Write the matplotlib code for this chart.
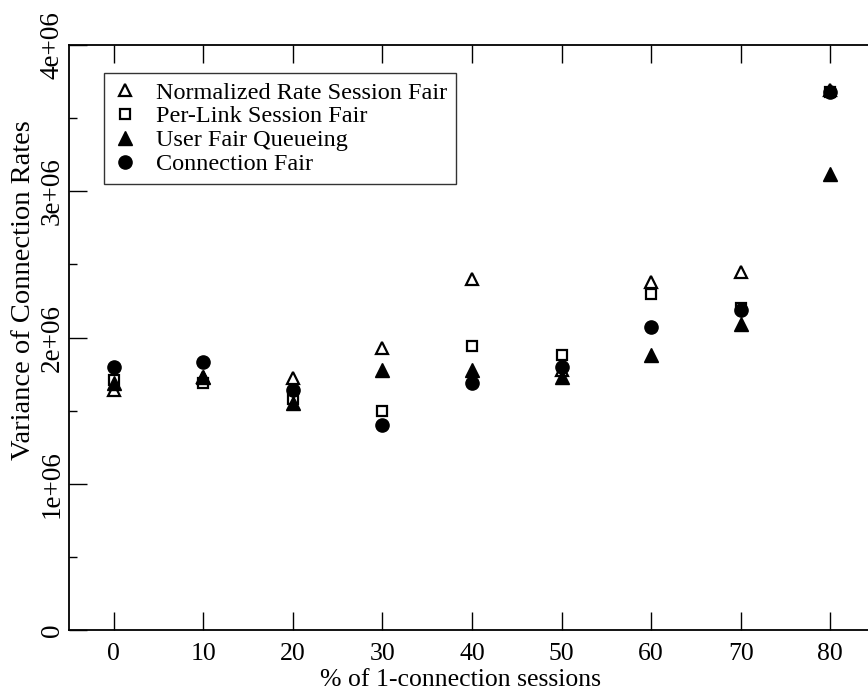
import matplotlib
matplotlib.use('Agg')
import matplotlib.pyplot as plt
from matplotlib.ticker import MultipleLocator

# %% Data
pct_sessions = [0, 10, 20, 30, 40, 50, 60, 70, 80]

norm_rate_fair = [1.64e6, 1.73e6, 1.72e6, 1.93e6, 2.40e6, 1.78e6, 2.38e6, 2.45e6, 3.69e6]
per_link_fair  = [1.71e6, 1.69e6, 1.58e6, 1.50e6, 1.94e6, 1.88e6, 2.30e6, 2.20e6, 3.68e6]
user_fair_q    = [1.69e6, 1.73e6, 1.55e6, 1.78e6, 1.78e6, 1.73e6, 1.88e6, 2.09e6, 3.12e6]
conn_fair      = [1.80e6, 1.83e6, 1.64e6, 1.40e6, 1.69e6, 1.80e6, 2.07e6, 2.19e6, 3.68e6]

series_labels = ['Normalized Rate Session Fair', 'Per-Link Session Fair',
                 'User Fair Queueing', 'Connection Fair']
y_ticks       = [0, 1e6, 2e6, 3e6, 4e6]
y_tick_labels = ['0', '1e+06', '2e+06', '3e+06', '4e+06']

# %% Style
plt.rcParams['font.family'] = ['Liberation Serif', 'DejaVu Serif']

W, H = 868, 695
fig = plt.figure(figsize=(W / 100, H / 100), dpi=100)
# frame runs past the right edge of the figure, as in the reference
AX_W = 833
ax = fig.add_axes([69 / W, 65 / H, AX_W / W, 585 / H])

ax.plot(pct_sessions, norm_rate_fair, linestyle='none', marker='^', ms=9,
        mfc='white', mec='black', mew=1.6, label=series_labels[0])
ax.plot(pct_sessions, per_link_fair, linestyle='none', marker='s', ms=7.5,
        mfc='white', mec='black', mew=1.6, label=series_labels[1])
ax.plot(pct_sessions, user_fair_q, linestyle='none', marker='^', ms=10,
        mfc='black', mec='black', mew=1, label=series_labels[2])
ax.plot(pct_sessions, conn_fair, linestyle='none', marker='o', ms=9.5,
        mfc='black', mec='black', mew=1, label=series_labels[3])

ax.set_xlim(-5, 88)
ax.set_ylim(0, 4e6)
ax.set_xticks(pct_sessions)
ax.set_xticklabels([str(v) for v in pct_sessions], fontsize=18.5)
ax.set_yticks(y_ticks)
ax.set_yticklabels(y_tick_labels, fontsize=19.5, rotation=90, va='center')
ax.yaxis.set_minor_locator(MultipleLocator(5e5))

ax.tick_params(which='major', direction='in', length=13, width=1,
               top=True, right=False)
ax.tick_params(which='minor', direction='in', length=6, width=1)
ax.tick_params(axis='x', pad=9)
ax.tick_params(axis='y', pad=3)
for sp in ax.spines.values():
    sp.set_linewidth(1.3)

ax.set_xlabel('% of 1-connection sessions', fontsize=18.5, va='center')
ax.xaxis.set_label_coords((460 - 69) / AX_W, -(680 - 630) / 585)
ax.set_ylabel('Variance of Connection Rates', fontsize=20.5, va='center')
ax.yaxis.set_label_coords(-(69 - 24) / AX_W, (630 - 290) / 585)

leg = ax.legend(loc='upper left', bbox_to_anchor=(104 / W, 1 - 73 / H),
                bbox_transform=fig.transFigure, fontsize=17.5,
                frameon=True, fancybox=False, edgecolor='black',
                handlelength=1.0, handletextpad=0.8, labelspacing=0.08,
                borderpad=0.35, borderaxespad=0, numpoints=1)
leg.get_frame().set_linewidth(1.0)

fig.savefig('out.png', dpi=100)
